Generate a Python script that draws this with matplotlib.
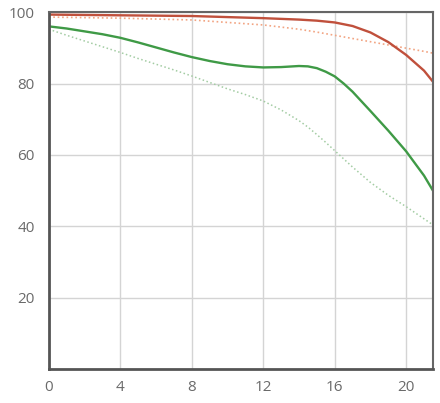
import matplotlib
matplotlib.use("Agg")
import matplotlib.pyplot as plt

# image height (mm) and contrast (%)
red_x = [0, 4, 8, 10, 12, 14, 15, 16, 17, 18, 19, 20, 21, 21.5]
red_solid = [99.3, 99.1, 98.9, 98.6, 98.3, 97.9, 97.6, 97.1, 96.1, 94.3, 91.6, 88.0, 83.6, 80.5]
red_dotted = [98.6, 98.3, 97.8, 97.1, 96.4, 95.2, 94.4, 93.5, 92.6, 91.7, 90.8, 89.9, 89.0, 88.5]

green_x = [0, 1, 2, 3, 4, 5, 6, 7, 8, 9, 10, 11, 12, 13, 14, 14.5, 15, 15.5, 16,
           16.5, 17, 18, 19, 20, 21, 21.5]
green_solid = [96.0, 95.4, 94.6, 93.8, 92.8, 91.5, 90.1, 88.7, 87.4, 86.3, 85.4, 84.8,
               84.5, 84.6, 84.9, 84.8, 84.3, 83.3, 82.0, 80.0, 77.7, 72.3, 66.8, 61.0,
               54.2, 50.0]
green_dotted = [95.2, 93.5, 91.9, 90.3, 88.7, 87.0, 85.4, 83.8, 82.1, 80.3, 78.5, 76.9,
                75.1, 72.6, 69.6, 67.8, 65.7, 63.5, 61.2, 58.9, 56.6, 52.3, 48.7, 45.5,
                42.1, 40.4]

x_ticks = [0, 4, 8, 12, 16, 20]
y_ticks = [20, 40, 60, 80, 100]

fig = plt.figure(figsize=(4.4, 4.03), dpi=100)
ax = fig.add_axes([0.111, 0.084, 0.873, 0.886])

ax.plot(green_x, green_dotted, color='#a3cca3', lw=1.1, ls=':')
ax.plot(green_x, green_solid, color='#3f9a46', lw=1.7)
ax.plot(red_x, red_dotted, color='#f2a482', lw=1.2, ls=':')
ax.plot(red_x, red_solid, color='#c0503c', lw=1.7)

ax.set_xlim(0, 21.5)
ax.set_ylim(0, 100)
ax.set_xticks(x_ticks)
ax.set_yticks(y_ticks)
ax.grid(True, color='#d4d4d4', lw=1.0)
ax.set_axisbelow(True)
ax.tick_params(length=0, labelsize=11, labelcolor='#6a6a6a')
ax.tick_params(axis='x', pad=8)
ax.tick_params(axis='y', pad=10)
for lbl in ax.get_xticklabels() + ax.get_yticklabels():
    lbl.set_family('Open Sans')

ax.spines['left'].set_linewidth(2.0)
ax.spines['bottom'].set_linewidth(2.0)
ax.spines['left'].set_color('#555555')
ax.spines['bottom'].set_color('#555555')
ax.spines['top'].set_linewidth(1.5)
ax.spines['right'].set_linewidth(1.5)
ax.spines['top'].set_color('#666666')
ax.spines['right'].set_color('#666666')

fig.savefig('out.png', dpi=100)
